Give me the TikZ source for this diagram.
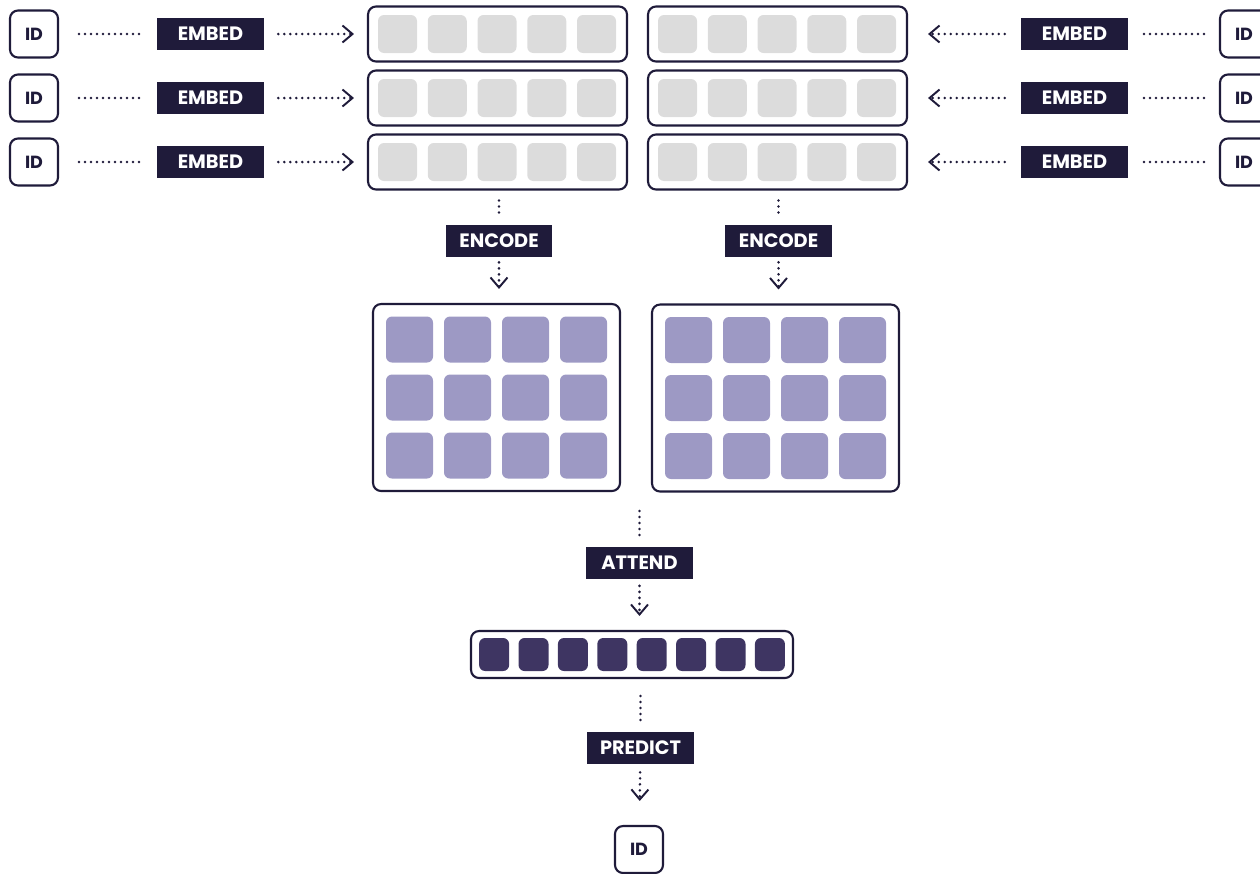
\documentclass[tikz,border=0pt]{standalone}
\usepackage{fontspec}
\setmainfont{Poppins}
\usetikzlibrary{arrows.meta,positioning}
\definecolor{navy}{HTML}{1F1B3A}
\definecolor{cellgray}{HTML}{DCDCDC}
\definecolor{cellmid}{HTML}{9D99C4}
\definecolor{celldark}{HTML}{3E3562}
\tikzset{
    idbox/.style={draw=navy, line width=1.2pt, rounded corners=0.16cm, minimum width=0.96cm, minimum height=0.94cm, inner sep=0pt, text=navy, font=\bfseries\fontsize{10}{12}\selectfont},
    opbox/.style={fill=navy, text=white, minimum width=2.14cm, minimum height=0.64cm, inner sep=0pt, font=\bfseries\fontsize{11}{13}\selectfont},
    rowbox/.style={draw=navy, line width=1.2pt, rounded corners=0.16cm, minimum width=5.18cm, minimum height=1.1cm, inner sep=0pt},
    gridbox/.style={draw=navy, line width=1.2pt, rounded corners=0.16cm, minimum width=4.94cm, minimum height=3.74cm, inner sep=0pt},
    vecbox/.style={draw=navy, line width=1.2pt, rounded corners=0.16cm, minimum width=6.44cm, minimum height=0.94cm, inner sep=0pt},
    cell/.style={rounded corners=0.12cm, inner sep=0pt},
    graycell/.style={cell, fill=cellgray, minimum width=0.78cm, minimum height=0.76cm},
    midcell/.style={cell, fill=cellmid, minimum width=0.94cm, minimum height=0.92cm},
    darkcell/.style={cell, fill=celldark, minimum width=0.6cm, minimum height=0.66cm},
    dots/.style={navy, line width=1.6pt, line cap=round, dash pattern=on 0pt off 0.12cm},
    flow/.style={dots, -{Straight Barb[length=0.2cm, width=0.34cm, line width=1.1pt]}}
}
\begin{document}
\begin{tikzpicture}[x=0.02cm, y=-0.02cm]
        % Page size
        \useasboundingbox (0,0) rectangle (1260,873);
        % Input rows, left side
        \foreach \y [count=\i] in {34,98,162} {
            \node[idbox] (idL\i) at (34,\y) {ID};
            \node[opbox] (embL\i) at (210.5,\y) {EMBED};
            \node[rowbox] (rowL\i) at (497.5,\y) {};
            \foreach \x in {397.5,447.25,497,546.75,596.5}
                \node[graycell] at (\x,\y) {};
            \draw[dots, shorten <=0.4cm, shorten >=0.34cm] (idL\i) -- (embL\i);
            \draw[flow, shorten <=0.28cm, shorten >=0.26cm] (embL\i) -- (rowL\i);
        }
        % Input rows, right side
        \foreach \y [count=\i] in {34,98,162} {
            \node[idbox] (idR\i) at (1244,\y) {ID};
            \node[opbox] (embR\i) at (1074.5,\y) {EMBED};
            \node[rowbox] (rowR\i) at (777.5,\y) {};
            \foreach \x in {677.5,727.25,777,826.75,876.5}
                \node[graycell] at (\x,\y) {};
            \draw[dots, shorten <=0.3cm, shorten >=0.28cm] (idR\i) -- (embR\i);
            \draw[flow, shorten <=0.32cm, shorten >=0.4cm] (embR\i) -- (rowR\i);
        }
        % Encode step
        \node[opbox] (encL) at (499,241) {ENCODE};
        \node[opbox] (encR) at (778.5,241) {ENCODE};
        \node[gridbox] (gridL) at (496.5,397.5) {};
        \node[gridbox] (gridR) at (775.5,398) {};
        \foreach \x in {-87,-29,29,87}
            \foreach \y in {-58,0,58} {
                \node[midcell] at (496.5+\x,397.5+\y) {};
                \node[midcell] at (775.5+\x,398+\y) {};
            }
        \draw[dots, shorten <=0.2cm, shorten >=0.14cm] (rowL3.south -| encL) -- (encL);
        \draw[dots, shorten <=0.2cm, shorten >=0.14cm] (rowR3.south -| encR) -- (encR);
        \draw[flow, shorten <=0.1cm, shorten >=0.28cm] (encL) -- (encL |- gridL.north);
        \draw[flow, shorten <=0.1cm, shorten >=0.28cm] (encR) -- (encR |- gridR.north);
        % Attend step
        \node[opbox] (att) at (639.5,562.5) {ATTEND};
        \node[vecbox] (vec) at (632,654.5) {};
        \foreach \x in {-137.9,-98.5,-59.1,-19.7,19.7,59.1,98.5,137.9}
            \node[darkcell] at (632+\x,654.5) {};
        \draw[dots, shorten <=0.38cm, shorten >=0.14cm] (gridL.south -| att) -- (att);
        \draw[flow, shorten <=0.14cm, shorten >=0.28cm] (att) -- (att |- vec.north);
        % Predict step
        \node[opbox] (pred) at (640.5,748) {PREDICT};
        \node[idbox] (idout) at (639,849.5) {ID};
        \draw[dots, shorten <=0.34cm, shorten >=0.2cm] (vec.south -| pred) -- (pred);
        \draw[flow, shorten <=0.16cm, shorten >=0.48cm] (pred) -- (idout);
    \end{tikzpicture}
\end{document}
